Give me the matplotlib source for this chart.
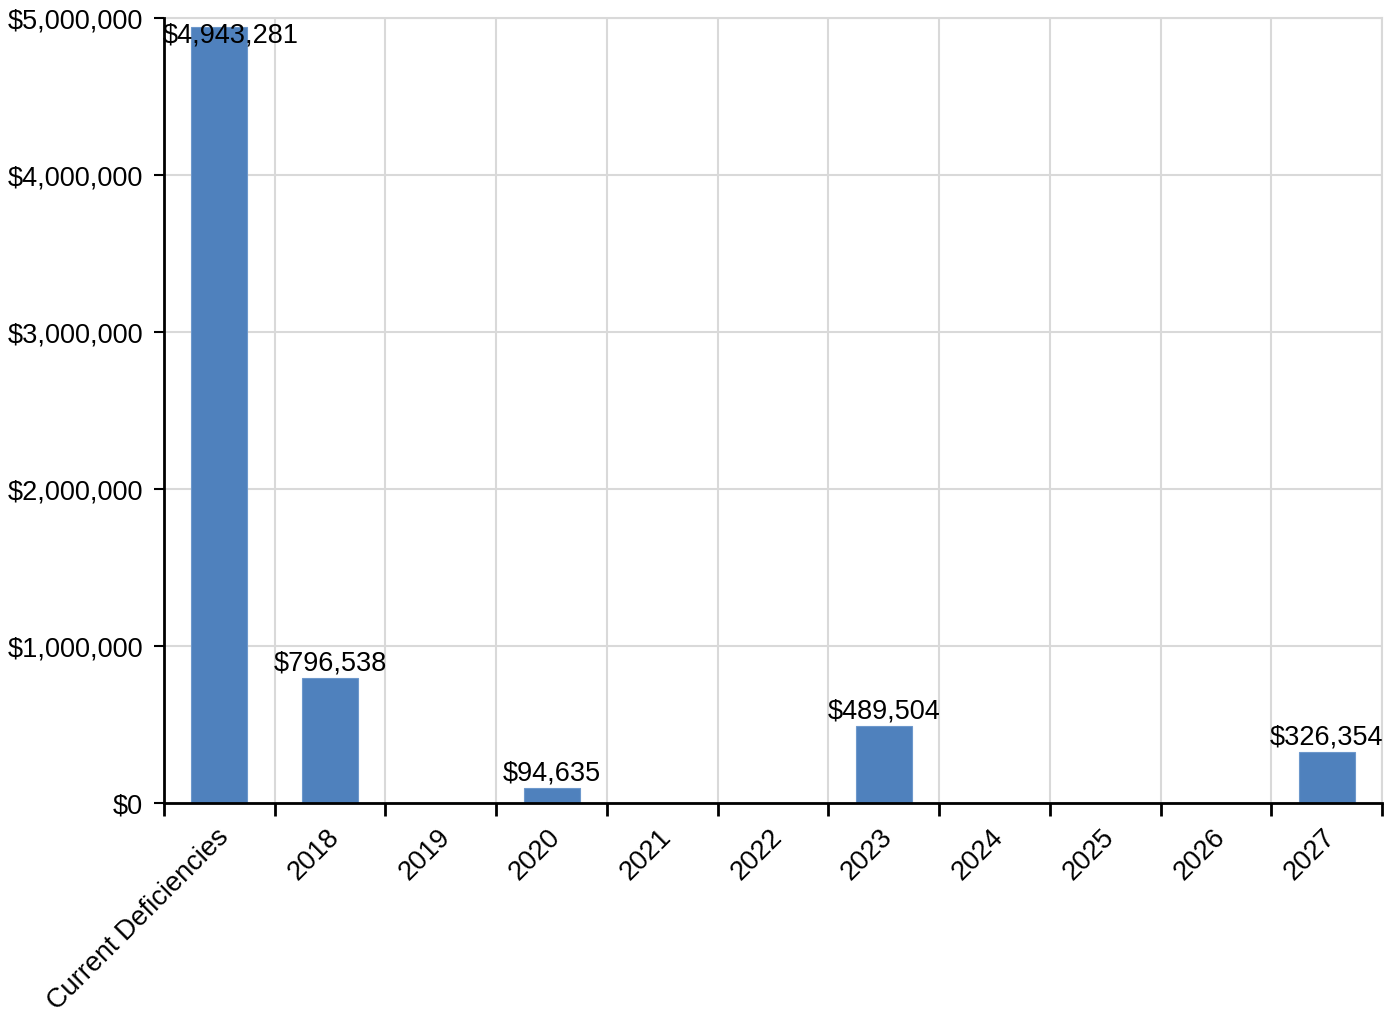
import matplotlib
matplotlib.use("Agg")
import matplotlib.pyplot as plt
from matplotlib.ticker import FuncFormatter, FixedLocator
from matplotlib.transforms import ScaledTranslation

plt.rcParams['font.family'] = ['Liberation Sans', 'DejaVu Sans']

categories = ["Current Deficiencies", "2018", "2019", "2020", "2021", "2022",
              "2023", "2024", "2025", "2026", "2027"]
costs = [4943281, 796538, 0, 94635, 0, 0, 489504, 0, 0, 0, 326354]
y_ticks = [0, 1000000, 2000000, 3000000, 4000000, 5000000]

bar_color = "#4f81bd"
grid_color = "#d9d9d9"
fs = 19.5

fig = plt.figure(figsize=(13.97, 10.11), dpi=100)
ax = fig.add_axes([164 / 1397, 1 - 803 / 1011, (1382 - 164) / 1397, (803 - 18) / 1011])

x = list(range(len(categories)))
ax.bar(x, costs, width=0.505, color=bar_color, edgecolor="#6d98cc", linewidth=0.8, zorder=3)

ymax = y_ticks[-1]
xmin = -0.5
ax.set_xlim(xmin, len(categories) - 0.5)
ax.set_ylim(0, ymax)

# value labels above each non-zero bar; keep them inside the plot area
for xi, v in zip(x, costs):
    if v <= 0:
        continue
    label = f"${v:,.0f}"
    if v > 0.95 * ymax:
        ax.annotate(label, (xmin, ymax), xytext=(-1, -3), textcoords="offset points",
                    ha="left", va="top", fontsize=fs, zorder=5)
    else:
        ax.annotate(label, (xi, v), xytext=(0, 1), textcoords="offset points",
                    ha="center", va="bottom", fontsize=fs, zorder=5)

# y axis
ax.set_yticks(y_ticks)
ax.yaxis.set_major_formatter(FuncFormatter(lambda v, p: f"${v:,.0f}"))
ax.tick_params(axis="y", length=7, width=1.5, pad=8, labelsize=fs, color="black")

# x axis: labels at category centres, ticks at category boundaries
ax.set_xticks(x)
ax.set_xticklabels(categories, rotation=45, ha="right", va="top", rotation_mode="anchor")
ax.tick_params(axis="x", which="major", length=0, pad=15, labelsize=fs)
shift = ScaledTranslation(-4 / 100, 0, fig.dpi_scale_trans)
for lab in ax.get_xticklabels():
    lab.set_transform(lab.get_transform() + shift)
bounds = [i - 0.5 for i in range(len(categories) + 1)]
ax.xaxis.set_minor_locator(FixedLocator(bounds))
ax.tick_params(axis="x", which="minor", length=9, width=2, color="black")

ax.grid(False)
ax.yaxis.grid(True, color=grid_color, linewidth=1.5, zorder=0)
ax.xaxis.grid(True, which="minor", color=grid_color, linewidth=1.5, zorder=0)
ax.set_axisbelow(True)

for side in ("top", "right"):
    ax.spines[side].set_visible(False)
for side in ("left", "bottom"):
    ax.spines[side].set_linewidth(2)
    ax.spines[side].set_color("black")
    ax.spines[side].set_zorder(4)

# top and right edges shown as gridlines
ax.axhline(ymax, color=grid_color, linewidth=1.5, zorder=0, clip_on=False)
ax.axvline(len(categories) - 0.5, color=grid_color, linewidth=1.5, zorder=0, clip_on=False)

fig.savefig("out.png", dpi=100)
